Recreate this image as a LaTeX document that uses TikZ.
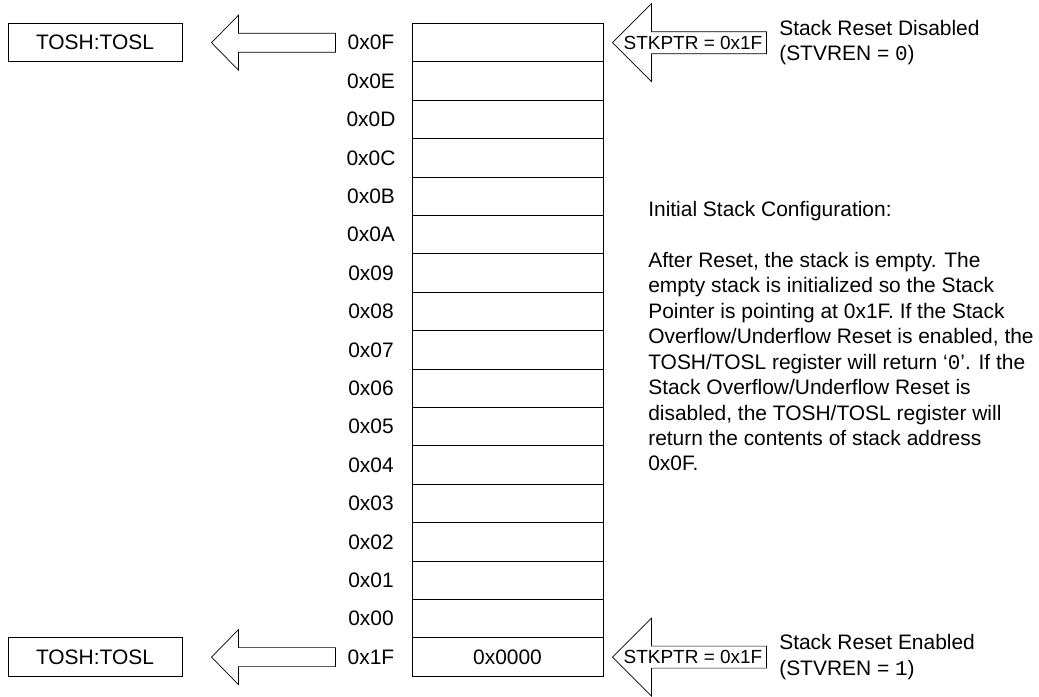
\documentclass[tikz,border=0pt]{standalone}
\usepackage{fontspec}
\setmainfont{Liberation Sans}
\setmonofont{Liberation Mono}
\tikzset{
	cell/.style={draw, line width=0.7pt, minimum width=47.75mm, minimum height=9.6mm, inner sep=0pt},
	addr/.style={inner sep=0pt},
	hollow/.style={draw, line width=0.5pt, line join=miter},
	note/.style={align=left, inner sep=0pt},
}
\begin{document}
\begin{tikzpicture}[x=0.25mm, y=-0.25mm, font=\fontsize{14.9}{18.1}\selectfont]
		\useasboundingbox (0,0) rectangle (1039,696);
		%stack cells and addresses
		\foreach \a [count=\i from 0] in {0F,0E,0D,0C,0B,0A,09,08,07,06,05,04,03,02,01,00,1F}{
			\node[cell] (c\i) at (507.5, 42.7+38.4*\i) {};
			\node[addr] (a\i) at (371, 42.7+38.4*\i) {0x\a};
		}
		\node (val) at (c16) {0x0000};
		
		%top of stack registers
		\node[cell, minimum width=43.5mm] (tos0) at (95, 42.7) {TOSH:TOSL};
		\node[cell, minimum width=43.5mm] (tos16) at (95, 657.1) {TOSH:TOSL};
		
		\foreach \i in {0, 16}{
			\draw[hollow] ([xshift=7.25mm]tos\i.east) -- ++(27,-27.5) -- ++(0,18) -- ++(97,0) -- ++(0,19) -- ++(-97,0) -- ++(0,18) -- cycle;
			\draw[hollow] ([xshift=2.25mm]c\i.east) -- ++(39,-39) -- ++(0,28) -- ++(115,0) -- ++(0,22) -- ++(-115,0) -- ++(0,28) -- cycle;
			\path (c\i.east) ++(89.5,0) node[inner sep=0pt, font=\fontsize{13.5}{16}\selectfont] (ptr\i) {STKPTR = 0x1F};
		}
		
		\node[note, anchor=west] (rst0) at (779, 42.7) {Stack Reset Disabled\\(STVREN = \texttt{0})};
		\node[note, anchor=west] (rst16) at (779, 657.1) {Stack Reset Enabled\\(STVREN = \texttt{1})};
		
		%initial configuration
		\node[note, anchor=north west] (cfg) at (648, 201) {Initial Stack Configuration:\\[18.1pt]
			After Reset, the stack is empty. The\\
			empty stack is initialized so the Stack\\
			Pointer is pointing at 0x1F. If the Stack\\
			Overflow/Underflow Reset is enabled, the\\
			TOSH/TOSL register will return ‘\texttt{0}’. If the\\
			Stack Overflow/Underflow Reset is\\
			disabled, the TOSH/TOSL register will\\
			return the contents of stack address\\
			0x0F.};
		\end{tikzpicture}
\end{document}
